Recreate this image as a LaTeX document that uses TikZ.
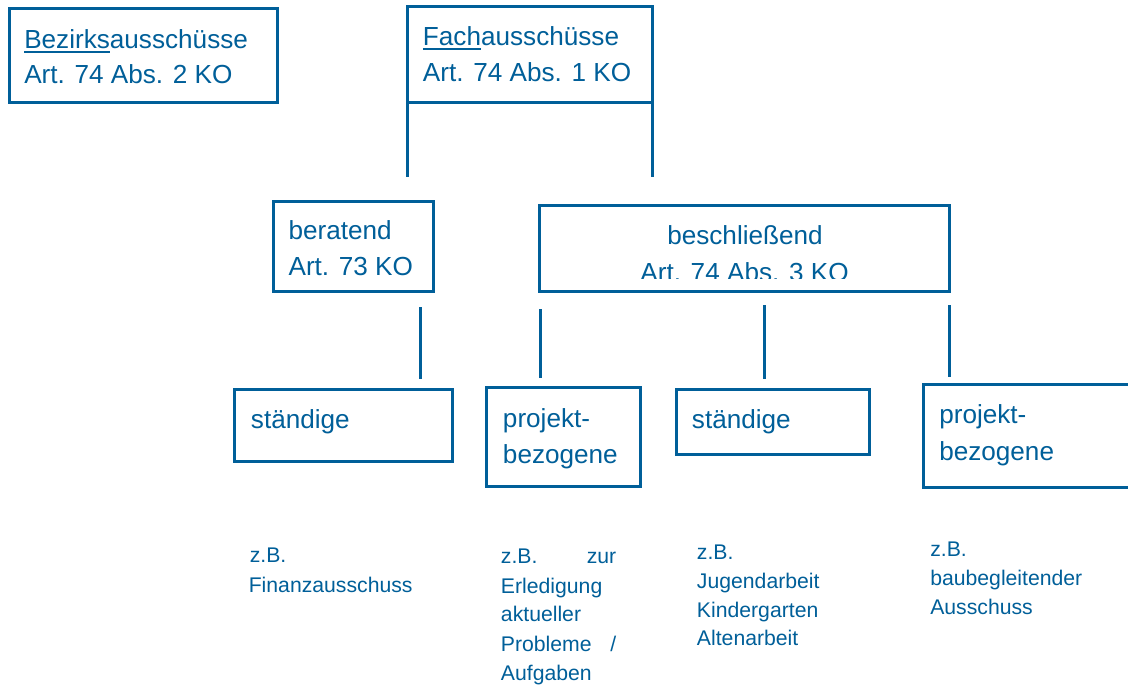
\documentclass[tikz,border=0pt]{standalone}
\usepackage{fontspec}
\setmainfont{Liberation Sans}
\usetikzlibrary{fit}
\definecolor{bl}{RGB}{0,95,153}
\newcommand\myul[1]{\setbox0\hbox{#1}\rlap{\rule[-3.2pt]{\wd0}{1.4pt}}\box0}
\begin{document}
\begin{tikzpicture}[x=0.75pt,y=-0.75pt,
  box/.style={draw=bl, line width=2.25pt, inner sep=0pt, outer sep=0pt},
  conn/.style={draw=bl, line width=2.25pt},
  big/.style={anchor=base west, inner sep=0pt, font=\fontsize{19.6}{23}\selectfont, text=bl},
  bigc/.style={anchor=base, inner sep=0pt, font=\fontsize{19.6}{23}\selectfont, text=bl},
  small/.style={anchor=base west, inner sep=0pt, font=\fontsize{15.9}{19}\selectfont, text=bl}]
\useasboundingbox[fill=white] (0,0) rectangle (1128,685);

% boxes
\node[box, fit={(9.3,8.7) (277.7,103)}] (bez) {};
\node[box, fit={(407.7,6.2) (652,102.2)}] (fach) {};
\node[box, fit={(273.3,201.5) (433.5,291.2)}] (ber) {};
\node[box, fit={(539.5,205.5) (949.5,291.5)}] (besch) {};
\node[box, fit={(234.5,389.5) (452.5,461.5)}] (st1) {};
\node[box, fit={(486.7,387.7) (640,486.3)}] (pj1) {};
\node[box, fit={(676.5,389) (869,454.8)}] (st2) {};
\node[box, fit={(923.5,384.5) (1140,487)}] (pj2) {};

% connectors
\coordinate (f1) at (407.7,177.3);
\coordinate (f2) at (652,177.3);
\draw[conn] (fach.south west) -- (f1);
\draw[conn] (fach.south east) -- (f2);
\coordinate (a1) at (420.3,307.3); \coordinate (a2) at (420.3,379.3);
\coordinate (b1) at (540,309);     \coordinate (b2) at (540,377.7);
\coordinate (c1) at (764.3,305);   \coordinate (c2) at (764.3,379.3);
\coordinate (d1) at (949.3,305);   \coordinate (d2) at (949.3,377.3);
\draw[conn] (a1) -- (a2);
\draw[conn] (b1) -- (b2);
\draw[conn] (c1) -- (c2);
\draw[conn] (d1) -- (d2);

% box texts
\node[big] (bezt1) at (24,48.3) {\myul{Bezirks}ausschüsse};
\node[big] (bezt2) at (24,83.3) {Art. 74 Abs. 2 KO};
\node[big] (facht1) at (422.7,46) {\myul{Fach}ausschüsse};
\node[big] (facht2) at (422.7,81.7) {Art. 74 Abs. 1 KO};
\node[big] (bert1) at (288.3,239.3) {beratend};
\node[big] (bert2) at (288.3,275) {Art. 73 KO};
\node[bigc] (bescht1) at (745,244.3) {beschließend};
\begin{scope}
\clip (539.5,205.5) rectangle (949.5,278.6);
\node[bigc] (bescht2) at (744.5,281.8) {Art. 74 Abs. 3 KO};
\end{scope}
\node[big] (st1t) at (250.7,428.3) {ständige};
\node[big] (pj1t1) at (502.7,427.5) {projekt-};
\node[big] (pj1t2) at (502.7,463.3) {bezogene};
\node[big] (st2t) at (691.7,428.3) {ständige};
\node[big] (pj2t1) at (939,423.3) {projekt-};
\node[big] (pj2t2) at (939,460.7) {bezogene};

% examples
\node[small] (e11) at (249.5,562) {z.B.};
\node[small] (e12) at (248.5,592) {Finanzausschuss};

\node[small] (e21) at (500.7,563.3) {\hbox to 86.5pt{z.B.\hfill zur}};
\node[small] (e22) at (500.7,593.3) {Erledigung};
\node[small] (e23) at (500.7,621.7) {aktueller};
\node[small] (e24) at (500.7,651.7) {\hbox to 86.5pt{Probleme\hfill /}};
\node[small] (e25) at (500.7,680) {Aufgaben};

\node[small] (e31) at (696.7,559.3) {z.B.};
\node[small] (e32) at (696.7,588.3) {Jugendarbeit};
\node[small] (e33) at (696.7,617.3) {Kindergarten};
\node[small] (e34) at (696.7,645) {Altenarbeit};

\node[small] (e41) at (930,556) {z.B.};
\node[small] (e42) at (930,585.7) {baubegleitender};
\node[small] (e43) at (930,614) {Ausschuss};
\end{tikzpicture}
\end{document}
